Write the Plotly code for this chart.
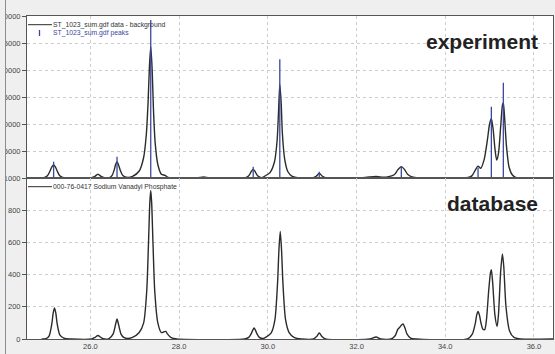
import plotly.graph_objects as go
from plotly.subplots import make_subplots

# ---------------- data ----------------
# experiment: data - background (2theta, counts)
EXP_X = [24.85, 24.95, 25.03, 25.09, 25.13, 25.17, 25.21, 25.25, 25.31, 25.42,
         26.00, 26.09, 26.17, 26.25, 26.34,
         26.42, 26.49, 26.54, 26.57, 26.60, 26.63, 26.67, 26.73, 26.84,
         26.95, 27.10, 27.20, 27.26, 27.30, 27.33, 27.36, 27.39, 27.42, 27.46, 27.52, 27.60, 27.68, 27.75, 27.85,
         28.40, 28.55, 28.70,
         29.48, 29.57, 29.63, 29.67, 29.71, 29.77, 29.87,
         29.90, 30.05, 30.15, 30.21, 30.24, 30.27, 30.30, 30.33, 30.38, 30.45, 30.55, 30.70,
         31.00, 31.09, 31.16, 31.23, 31.33,
         32.00, 32.20, 32.44, 32.60,
         32.70, 32.85, 32.93, 33.01, 33.08, 33.15, 33.25, 33.40,
         34.45, 34.60, 34.68, 34.74, 34.80, 34.88, 34.95, 35.00, 35.04, 35.08, 35.12, 35.16,
         35.20, 35.25, 35.29, 35.31, 35.34, 35.38, 35.44, 35.52, 35.62, 36.43]
EXP_Y = [0, 50, 400, 1300, 2050, 2400, 2050, 1300, 400, 0,
         0, 250, 700, 250, 0,
         0, 500, 1600, 2550, 3000, 2500, 1500, 450, 100,
         300, 1300, 3800, 8000, 14000, 20500, 24300, 20500, 13000, 6500, 2500, 700, 500, 100, 0,
         0, 200, 0,
         0, 400, 1250, 1600, 1250, 400, 50,
         200, 1000, 3000, 7000, 12000, 17350, 14000, 8000, 3500, 1200, 300, 0,
         0, 330, 870, 330, 0,
         50, 100, 300, 150,
         200, 600, 1500, 2100, 1600, 700, 200, 0,
         0, 400, 1500, 2200, 1800, 3500, 7000, 10000, 11050, 9000, 5500, 3330,
         4500, 9500, 13500, 13950, 11000, 6000, 2000, 500, 0, 0]

# experiment: peak list (sticks)
PEAK_POS = [25.17, 26.60, 27.36, 29.67, 30.27, 31.16, 33.01, 34.74, 35.04, 35.31]
PEAK_H = [3020, 3950, 29260, 2100, 21980, 1170, 2100, 1900, 13200, 17650]

# database: 000-76-0417 Sodium Vanadyl Phosphate
DB_X = [24.90, 25.00, 25.07, 25.13, 25.16, 25.19, 25.22, 25.25, 25.31, 25.40, 25.55,
        26.03, 26.10, 26.17, 26.24, 26.32,
        26.42, 26.51, 26.57, 26.60, 26.63, 26.66, 26.69, 26.75, 26.84,
        26.95, 27.10, 27.20, 27.27, 27.31, 27.34, 27.36, 27.38, 27.41, 27.45, 27.52, 27.60, 27.66, 27.70, 27.74, 27.82, 27.95,
        29.48, 29.57, 29.63, 29.66, 29.69, 29.72, 29.75, 29.81, 29.90,
        29.95, 30.08, 30.16, 30.22, 30.25, 30.28, 30.31, 30.34, 30.40, 30.48, 30.60, 30.75,
        31.03, 31.10, 31.16, 31.22, 31.30,
        32.30, 32.44, 32.55,
        32.78, 32.87, 32.93, 32.98, 33.02, 33.05, 33.09, 33.14, 33.22, 33.35,
        34.50, 34.61, 34.68, 34.71, 34.74, 34.77, 34.81, 34.85, 34.89, 34.93, 34.98, 35.02, 35.04, 35.07, 35.12, 35.17,
        35.20, 35.25, 35.29, 35.32, 35.37, 35.45, 35.55, 35.70, 36.43]
DB_Y = [0, 3, 20, 95, 160, 193, 160, 95, 25, 5, 0,
        0, 9, 22, 9, 0,
        3, 30, 95, 124, 95, 60, 30, 10, 3,
        10, 40, 100, 300, 600, 850, 923, 850, 600, 300, 100, 40, 45, 47, 30, 8, 0,
        0, 10, 35, 55, 68, 55, 35, 10, 3,
        10, 40, 120, 350, 550, 668, 550, 350, 120, 40, 8, 0,
        0, 15, 37, 15, 0,
        0, 12, 0,
        0, 20, 60, 75, 88, 93, 70, 30, 5, 0,
        0, 30, 100, 150, 171, 150, 95, 60, 58, 120, 300, 410, 430, 350, 150, 78,
        150, 420, 528, 450, 200, 50, 10, 0, 0]

X_TICKS = [26, 28, 30, 32, 34, 36]
X_TICK_TEXT = ["26.0", "28.0", "30.0", "32.0", "34.0", "36.0"]
EXP_TICKS = [5000, 10000, 15000, 20000, 25000, 30000]
DB_TICKS = [0, 200, 400, 600, 800, 1000]

LEG_EXP = "ST_1023_sum.gdf data - background"
LEG_PEAKS = "ST_1023_sum.gdf peaks"
LEG_DB = "000-76-0417 Sodium Vanadyl Phosphate"

# ---------------- layout geometry ----------------
WIDTH, HEIGHT = 555, 354
L, T, R, B = 27, 16, 2, 15
W = WIDTH - L - R
H = HEIGHT - T - B
SPLIT = 1 - (178 - T) / H


def px_x(px):
    return (px - L) / W


def px_y(py):
    return 1 - (py - T) / H


BLACK = "#2b2b2b"
BLUE = "#3848a0"
GRID = "#cccccc"
AXIS = "#555555"
TICKFONT = dict(family="Liberation Sans, Arial", size=7.5, color="#444444")

fig = make_subplots(rows=2, cols=1, shared_xaxes=True, vertical_spacing=0)

fig.add_trace(go.Scatter(x=EXP_X, y=EXP_Y, mode="lines",
                         line=dict(color=BLACK, width=1.4, shape="spline", smoothing=0.7),
                         hoverinfo="skip"), row=1, col=1)

stick_x, stick_y = [], []
for p, h in zip(PEAK_POS, PEAK_H):
    stick_x += [p, p, None]
    stick_y += [0, h, None]
fig.add_trace(go.Scatter(x=stick_x, y=stick_y, mode="lines",
                         line=dict(color=BLUE, width=1.3), hoverinfo="skip"), row=1, col=1)

fig.add_trace(go.Scatter(x=DB_X, y=DB_Y, mode="lines",
                         line=dict(color=BLACK, width=1.4, shape="spline", smoothing=0.7),
                         hoverinfo="skip"), row=2, col=1)

xcommon = dict(range=[24.57, 36.43], tickvals=X_TICKS, ticktext=X_TICK_TEXT,
               showgrid=True, gridcolor=GRID, griddash="dot", gridwidth=1,
               showline=True, linecolor=AXIS, linewidth=1, mirror=True,
               ticks="", zeroline=False, tickfont=TICKFONT, automargin=False)
fig.update_xaxes(**xcommon)
fig.update_xaxes(showticklabels=False, row=1, col=1)

ycommon = dict(showgrid=True, gridcolor=GRID, griddash="dot", gridwidth=1,
               showline=True, linecolor=AXIS, linewidth=1, mirror=True,
               ticks="outside", ticklen=4, tickcolor=AXIS, zeroline=False,
               tickfont=TICKFONT, tickformat="d", automargin=False)
fig.update_yaxes(**ycommon)
fig.update_yaxes(range=[0, 30000], tickvals=EXP_TICKS, domain=[SPLIT, 1], row=1, col=1)
fig.update_yaxes(range=[0, 1000], tickvals=DB_TICKS, domain=[0, SPLIT], row=2, col=1)

shapes = [
    # window frame at the far left
    dict(type="rect", xref="paper", yref="paper", x0=px_x(-2), x1=px_x(5.5),
         y0=px_y(-2), y1=px_y(HEIGHT + 2), fillcolor="#efefef", line=dict(width=0), layer="above"),
    dict(type="line", xref="paper", yref="paper", x0=px_x(5.5), x1=px_x(5.5),
         y0=px_y(0), y1=px_y(HEIGHT), line=dict(color="#8c8c8c", width=1), layer="above"),
    # legend keys
    dict(type="line", xref="paper", yref="paper", x0=px_x(28), x1=px_x(52),
         y0=px_y(24.7), y1=px_y(24.7), line=dict(color=BLACK, width=1)),
    dict(type="line", xref="paper", yref="paper", x0=px_x(39.5), x1=px_x(39.5),
         y0=px_y(30), y1=px_y(36), line=dict(color=BLUE, width=1.3)),
    dict(type="line", xref="paper", yref="paper", x0=px_x(28), x1=px_x(52),
         y0=px_y(186.7), y1=px_y(186.7), line=dict(color=BLACK, width=1)),
]

leg_font = dict(family="Liberation Sans, Arial", size=6.8, color="#333333")
annotations = [
    dict(text=LEG_EXP, x=px_x(51.5), y=px_y(24.7), xanchor="left", yanchor="middle",
         font=leg_font),
    dict(text=LEG_PEAKS, x=px_x(51.5), y=px_y(33), xanchor="left", yanchor="middle",
         font=dict(leg_font, color=BLUE)),
    dict(text=LEG_DB, x=px_x(51.5), y=px_y(186.7), xanchor="left", yanchor="middle",
         font=leg_font),
    dict(text="<b>experiment</b>", x=px_x(539), y=px_y(41), xanchor="right", yanchor="middle",
         font=dict(family="Liberation Sans, Arial", size=21, color="#222222")),
    dict(text="<b>database</b>", x=px_x(539), y=px_y(203), xanchor="right", yanchor="middle",
         font=dict(family="Liberation Sans, Arial", size=21, color="#222222")),
]
for a in annotations:
    a.update(xref="paper", yref="paper", showarrow=False, borderpad=0)

fig.update_layout(width=WIDTH, height=HEIGHT, margin=dict(l=L, r=R, t=T, b=B, pad=0),
                  paper_bgcolor="#efefef", plot_bgcolor="white", showlegend=False,
                  shapes=shapes, annotations=annotations, template="none")

fig.write_html("out.html")
